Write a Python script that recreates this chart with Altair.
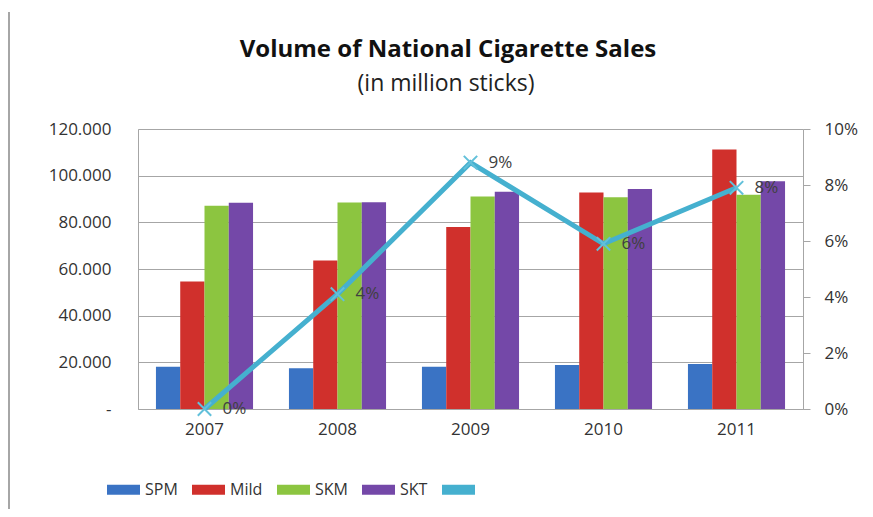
import altair as alt
import pandas as pd

years = ["2007", "2008", "2009", "2010", "2011"]
series_order = ["SPM", "Mild", "SKM", "SKT"]
spm = [18100, 17500, 18100, 18900, 19300]
mild = [54600, 63600, 78000, 92800, 111200]
skm = [87100, 88500, 91100, 90800, 91800]
skt = [88400, 88600, 93100, 94300, 97600]
growth = [0.0, 0.041, 0.088, 0.059, 0.079]
growth_labels = ["0%", "4%", "9%", "6%", "8%"]
left_ticks = [0, 20000, 40000, 60000, 80000, 100000, 120000]
right_ticks = [0, 0.02, 0.04, 0.06, 0.08, 0.10]
title_text = "Volume of National Cigarette Sales"
subtitle_text = "(in million sticks)"

legend_domain = ["SPM", "Mild", "SKM", "SKT", "Growth"]
colors = ["#3a73c4", "#d0302c", "#8cc540", "#7448a8", "#45b0cf"]

rows = []
for name, vals in zip(series_order, [spm, mild, skm, skt]):
    for y, v in zip(years, vals):
        rows.append({"year": y, "series": name, "value": v})
df_bars = pd.DataFrame(rows)
df_line = pd.DataFrame({"year": years, "growth": growth, "label": growth_labels})
df_one = pd.DataFrame({"title": [title_text], "subtitle": [subtitle_text]})

FONT = "Open Sans"
GRAY = "#a6a6a6"

x_enc = alt.X(
    "year:N",
    sort=years,
    scale=alt.Scale(paddingInner=0.27, paddingOuter=0.135),
    axis=alt.Axis(title=None, labelAngle=0, ticks=False, domainColor=GRAY,
                  labelFontSize=17, labelFont=FONT, labelColor="#333333",
                  labelPadding=12),
)

frame_left = alt.Chart(df_one).mark_rule(stroke=GRAY, strokeWidth=2).encode(
    x=alt.value(-129), y=alt.value(-117), y2=alt.value(388))

title_mark = alt.Chart(df_one).mark_text(
    font=FONT, fontSize=24, fontWeight="bold", color="#111111",
    align="center", baseline="middle"
).encode(text="title:N", x=alt.value(310), y=alt.value(-79))
subtitle_mark = alt.Chart(df_one).mark_text(
    font=FONT, fontSize=23, color="#222222", align="center", baseline="middle"
).encode(text="subtitle:N", x=alt.value(308), y=alt.value(-45))

bars = alt.Chart(df_bars).mark_bar().encode(
    x=x_enc,
    xOffset=alt.XOffset("series:N", sort=series_order,
                        scale=alt.Scale(domain=series_order, paddingInner=0)),
    y=alt.Y("value:Q", scale=alt.Scale(domain=[0, 120000], nice=False),
            axis=alt.Axis(values=left_ticks, title=None, ticks=False,
                          domainColor=GRAY, gridColor=GRAY, grid=True,
                          labelFontSize=17, labelFont=FONT, labelColor="#333333",
                          labelPadding=27,
                          labelExpr="datum.value == 0 ? '-' : replace(format(datum.value, ','), ',', '.')")),
    color=alt.Color("series:N", scale=alt.Scale(domain=legend_domain, range=colors),
                    legend=alt.Legend(orient="none", legendX=-31, legendY=344,
                                      direction="horizontal", columns=5, title=None,
                                      symbolType="M-1,-0.3H1V0.3H-1Z", symbolSize=1089,
                                      symbolStrokeWidth=0,
                                      labelFontSize=16, labelFont=FONT,
                                      labelColor="#333333", columnPadding=14,
                                      labelOffset=5,
                                      labelExpr="datum.label == 'Growth' ? '' : datum.label")),
)

y_right = alt.Y("growth:Q", scale=alt.Scale(domain=[0, 0.1], nice=False),
                axis=alt.Axis(orient="right", values=right_ticks, format=".0%",
                              title=None, grid=False, domainColor=GRAY,
                              tickColor=GRAY, tickSize=7,
                              labelPadding=14,
                              labelFontSize=17, labelFont=FONT,
                              labelColor="#333333"))

line = alt.Chart(df_line).mark_line(color="#45b0cf", strokeWidth=5).encode(
    x=x_enc, y=y_right
)
points = alt.Chart(df_line).mark_point(
    shape="M-1,-1L1,1M-1,1L1,-1", filled=False, color="#62c0da",
    strokeWidth=2, size=180, opacity=1
).encode(x=x_enc, y=y_right)
labels = alt.Chart(df_line).mark_text(
    align="left", baseline="middle", dx=18, fontSize=17, font=FONT, color="#404040"
).encode(x=x_enc, y=y_right, text="label:N")

right = alt.layer(line, points, labels)

chart = alt.layer(
    frame_left, title_mark, subtitle_mark, bars, right
).resolve_scale(y="independent").properties(
    width=665,
    height=280,
    padding={"left": 138, "top": 129, "right": 70, "bottom": 100},
    autosize=alt.AutoSizeParams(type="none"),
).configure_view(stroke=None).configure(background="white")

chart.save("out.html", embed_options={"renderer": "svg", "actions": False})
